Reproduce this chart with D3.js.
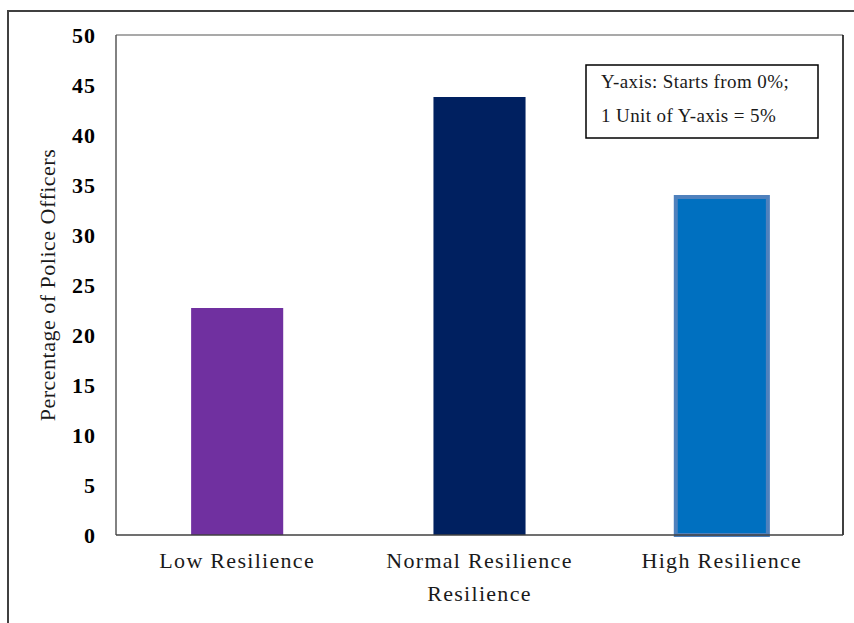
<!DOCTYPE html>
<html>
<head>
<meta charset="utf-8">
<script src="https://cdn.jsdelivr.net/npm/d3@7"></script>
<style>
  html, body { margin: 0; padding: 0; background: #fff; }
  svg { display: block; }
</style>
</head>
<body>
<svg id="chart" width="854" height="623"></svg>
<script>
// Share of officers in each resilience group (%)
const categories = ["Low Resilience", "Normal Resilience", "High Resilience"];
const values = [22.7, 43.8, 33.8];
const barColors = ["#7030A0", "#002060", "#0070C0"];
const barStrokes = [null, null, "#4F81BD"];
const yTicks = [0, 5, 10, 15, 20, 25, 30, 35, 40, 45, 50];
const noteLines = ["Y-axis: Starts from 0%;", "1 Unit of Y-axis = 5%"];

const svg = d3.select("#chart");
const plot = { left: 116, right: 843, top: 35, bottom: 535 };
const serif = "'Liberation Serif', 'Times New Roman', serif";

// Outer frame
svg.append("rect")
  .attr("x", 8).attr("y", 11)
  .attr("width", 900).attr("height", 700)
  .attr("fill", "none").attr("stroke", "#404040").attr("stroke-width", 2);

const x = d3.scaleBand()
  .domain(categories)
  .range([plot.left, plot.right])
  .paddingInner(0.62)
  .paddingOuter(0.31);

const y = d3.scaleLinear()
  .domain([0, 50])
  .range([plot.bottom, plot.top]);

// Plot area border
svg.append("line").attr("x1", plot.left).attr("x2", plot.right)
  .attr("y1", plot.top).attr("y2", plot.top)
  .attr("stroke", "#8c8c8c").attr("stroke-width", 1.5);
svg.append("line").attr("x1", plot.right).attr("x2", plot.right)
  .attr("y1", plot.top).attr("y2", plot.bottom)
  .attr("stroke", "#000").attr("stroke-width", 1.5);
svg.append("line").attr("x1", plot.left).attr("x2", plot.left)
  .attr("y1", plot.top).attr("y2", plot.bottom)
  .attr("stroke", "#595959").attr("stroke-width", 1.5);

// Bars
svg.append("g").selectAll("rect")
  .data(categories)
  .join("rect")
  .attr("x", d => x(d))
  .attr("y", (d, i) => y(values[i]))
  .attr("width", x.bandwidth())
  .attr("height", (d, i) => y(0) - y(values[i]))
  .attr("fill", (d, i) => barColors[i])
  .attr("stroke", (d, i) => barStrokes[i] || "none")
  .attr("stroke-width", 4);

// Baseline
svg.append("line").attr("x1", plot.left).attr("x2", plot.right)
  .attr("y1", plot.bottom).attr("y2", plot.bottom)
  .attr("stroke", "#404040").attr("stroke-width", 1.5);

// Y axis
const yAxis = svg.append("g")
  .attr("transform", `translate(${plot.left},0)`)
  .call(d3.axisLeft(y).tickValues(yTicks).tickSize(0).tickPadding(20));
yAxis.select(".domain").remove();
yAxis.selectAll("text")
  .attr("font-family", serif)
  .attr("font-size", 22)
  .attr("font-weight", "bold")
  .attr("letter-spacing", 1)
  .attr("fill", "#000");

// X axis
const xAxis = svg.append("g")
  .attr("transform", `translate(0,${plot.bottom})`)
  .call(d3.axisBottom(x).tickSize(0).tickPadding(17));
xAxis.select(".domain").remove();
xAxis.selectAll("text")
  .attr("font-family", serif)
  .attr("font-size", 22)
  .attr("letter-spacing", 1.3)
  .attr("fill", "#1a1a1a");

// Axis titles
svg.append("text")
  .attr("x", (plot.left + plot.right) / 2)
  .attr("y", 601)
  .attr("text-anchor", "middle")
  .attr("font-family", serif)
  .attr("font-size", 22)
  .attr("letter-spacing", 1.3)
  .attr("fill", "#1a1a1a")
  .text("Resilience");

svg.append("text")
  .attr("transform", "translate(55,285) rotate(-90)")
  .attr("text-anchor", "middle")
  .attr("font-family", serif)
  .attr("font-size", 22)
  .attr("letter-spacing", 0.5)
  .attr("fill", "#1a1a1a")
  .text("Percentage of Police Officers");

// Note box
const note = svg.append("g");
note.append("rect")
  .attr("x", 586).attr("y", 65)
  .attr("width", 232).attr("height", 73)
  .attr("fill", "#fff").attr("stroke", "#000").attr("stroke-width", 1.5);
note.selectAll("text")
  .data(noteLines)
  .join("text")
  .attr("x", 601)
  .attr("y", (d, i) => 88 + i * 34)
  .attr("font-family", serif)
  .attr("font-size", 19)
  .attr("letter-spacing", 0.4)
  .attr("fill", "#1a1a1a")
  .text(d => d);
</script>
</body>
</html>
